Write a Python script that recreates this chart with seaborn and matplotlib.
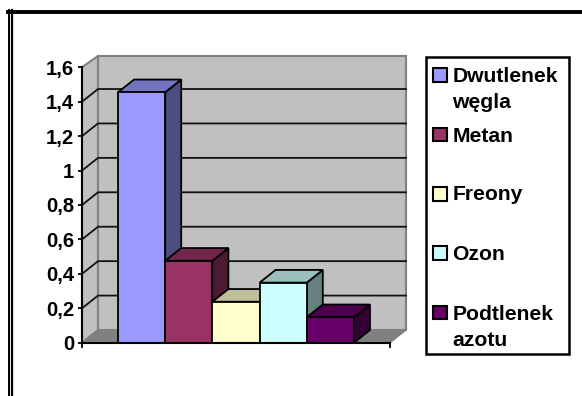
import matplotlib
matplotlib.use("Agg")
import matplotlib.pyplot as plt
from matplotlib.patches import Polygon, Rectangle
from matplotlib.lines import Line2D
import seaborn as sns
import pandas as pd
import numpy as np
from matplotlib.colors import to_rgb

categories = ["Dwutlenek węgla", "Metan", "Freony", "Ozon", "Podtlenek azotu"]
values = [1.455, 0.476, 0.238, 0.349, 0.148]
colors = ["#9999FF", "#993366", "#FFFFCC", "#CCFFFF", "#660066"]
yticks = [0, 0.2, 0.4, 0.6, 0.8, 1.0, 1.2, 1.4, 1.6]
yticklabels = ["0", "0,2", "0,4", "0,6", "0,8", "1", "1,2", "1,4", "1,6"]
legend_lines = [["Dwutlenek", "węgla"], ["Metan"], ["Freony"], ["Ozon"], ["Podtlenek", "azotu"]]

W, H = 582, 396
FS = 14.6
LEG_FS = 15.2
plt.rcParams["font.family"] = ["Liberation Sans", "DejaVu Sans"]
plt.rcParams["font.weight"] = "bold"

fig = plt.figure(figsize=(W / 100, H / 100), dpi=100, facecolor="white")

def px_rect(x0, y0, x1, y1):
    return [x0 / W, 1 - y1 / H, (x1 - x0) / W, (y1 - y0) / H]

# page frame
fig.add_artist(Line2D([9 / W, 9 / W], [0, 1 - 10 / H], color="black", lw=1.4))
fig.add_artist(Line2D([12 / W, 12 / W], [0, 1 - 10 / H], color="black", lw=1.6))
fig.add_artist(Line2D([8 / W, 1], [1 - 12 / H, 1 - 12 / H], color="black", lw=2.8))

ax = fig.add_axes(px_rect(82, 67.3, 390, 342.7))
ax.patch.set_alpha(0)
df = pd.DataFrame({"cat": categories, "val": values})
sns.barplot(data=df, x="cat", y="val", hue="cat", palette=colors, dodge=False,
            width=1.0, legend=False, ax=ax, edgecolor="black", linewidth=1.3,
            saturation=1, zorder=5)
ax.set_xlim(-1.263, 5.263)
ax.set_ylim(0, 1.6)
ax.set_xlabel("")
ax.set_ylabel("")

dx = 16 / 47.2
dy = 12.7 / 275.4 * 1.6
x0, x1 = ax.get_xlim()
top = 1.6 - 0.008

# walls and floor
ax.add_patch(Polygon([(x0, 0), (x0 + dx, dy), (x0 + dx, top + dy), (x0, 1.6)], fc="#C0C0C0",
                     ec="#808080", lw=1.5, clip_on=False, zorder=0.5))
ax.add_patch(Rectangle((x0 + dx, dy), x1 - x0, top, fc="#C0C0C0", ec="#808080", lw=1.5,
                       clip_on=False, zorder=0.6))
ax.add_patch(Polygon([(x0, 0), (x1, 0), (x1 + dx, dy), (x0 + dx, dy)], fc="#808080",
                     ec="#808080", lw=1, clip_on=False, zorder=0.7))

# gridlines on side and back walls
for v in yticks[1:-1]:
    ax.plot([x0, x0 + dx, x1 + dx], [v, v + dy, v + dy], color="#111111", lw=1.3,
            clip_on=False, zorder=1, solid_joinstyle="miter")

# 3-D faces of the bars
for i, (v, c) in enumerate(zip(values, colors)):
    rgb = np.array(to_rgb(c))
    l, r = i - 0.5, i + 0.5
    ax.add_patch(Polygon([(r, 0), (r + dx, dy), (r + dx, v + dy), (r, v)], fc=rgb * 0.5,
                         ec="black", lw=1.3, clip_on=False, zorder=2 + i * 0.1))
    ax.add_patch(Polygon([(l, v), (l + dx, v + dy), (r + dx, v + dy), (r, v)], fc=rgb * 0.75,
                         ec="black", lw=1.3, clip_on=False, zorder=2 + i * 0.1))

ax.set_yticks(yticks)
ax.set_yticklabels(yticklabels, fontsize=FS, fontweight="bold")
ax.set_xticks([])
ax.tick_params(axis="y", length=3.2, width=1.3, color="black", pad=2.5, labelcolor="black")
for s in ("top", "right"):
    ax.spines[s].set_visible(False)
for s in ("left", "bottom"):
    ax.spines[s].set_linewidth(1.5)
    ax.spines[s].set_zorder(6)
# end ticks of the category axis
for xe in (x0, x1):
    ax.plot([xe, xe], [0, -0.023], color="black", lw=1.3, clip_on=False, zorder=6)

# legend panel, in pixel coordinates
lg = fig.add_axes([0, 0, 1, 1])
lg.set_xlim(0, W)
lg.set_ylim(H, 0)
lg.axis("off")
lg.patch.set_alpha(0)
lg.add_patch(Rectangle((425.5, 57), 143.5, 296.5, fc="white", ec="black", lw=1.8))
swatch_top = [68, 127.5, 187, 246, 305.5]
text_y = [[74, 100], [134], [193], [253], [312, 338]]
for c, st, lines, ys in zip(colors, swatch_top, legend_lines, text_y):
    lg.add_patch(Rectangle((433, st), 14, 13.5, fc=c, ec="black", lw=1.5))
    for t, y in zip(lines, ys):
        lg.text(452.5, y, t, fontsize=LEG_FS, fontweight="bold", va="center_baseline", ha="left", color="black")

fig.savefig("out.png", dpi=100)
